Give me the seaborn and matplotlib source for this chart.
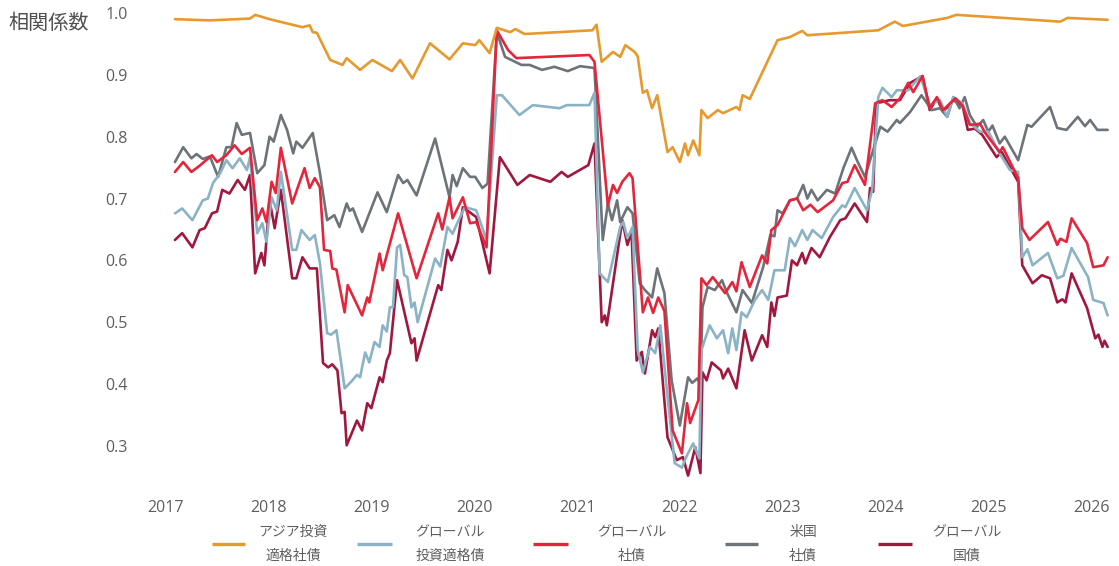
import matplotlib
matplotlib.use("Agg")
import matplotlib.pyplot as plt
from matplotlib.lines import Line2D
import seaborn as sns
import pandas as pd

# ---- data: correlation coefficients (decimal-year dates) ----
asia_ig_t = [2017.09, 2017.43, 2017.82, 2017.87, 2018.01, 2018.33, 2018.40, 2018.43, 2018.47, 2018.60,
             2018.72, 2018.76, 2018.89, 2019.01, 2019.20, 2019.28, 2019.40, 2019.57, 2019.76, 2019.89,
             2020.01, 2020.05, 2020.15, 2020.22, 2020.35, 2020.40, 2020.49, 2021.15, 2021.19, 2021.24,
             2021.35, 2021.42, 2021.47, 2021.56, 2021.59, 2021.64, 2021.68, 2021.73, 2021.78, 2021.88,
             2021.93, 2022.00, 2022.05, 2022.08, 2022.13, 2022.19, 2022.21, 2022.27, 2022.37, 2022.42,
             2022.55, 2022.58, 2022.61, 2022.68, 2022.95, 2023.07, 2023.19, 2023.24, 2023.93, 2024.09,
             2024.17, 2024.60, 2024.69, 2025.70, 2025.77, 2026.16]
asia_ig_v = [0.990, 0.988, 0.991, 0.997, 0.990, 0.977, 0.980, 0.969, 0.968, 0.924,
             0.916, 0.927, 0.908, 0.924, 0.906, 0.924, 0.894, 0.951, 0.925, 0.951,
             0.948, 0.956, 0.935, 0.976, 0.969, 0.974, 0.966, 0.972, 0.981, 0.921,
             0.937, 0.929, 0.948, 0.937, 0.930, 0.871, 0.875, 0.846, 0.867, 0.775,
             0.783, 0.759, 0.789, 0.770, 0.794, 0.770, 0.843, 0.830, 0.843, 0.838,
             0.848, 0.843, 0.867, 0.861, 0.956, 0.961, 0.971, 0.964, 0.972, 0.986,
             0.979, 0.992, 0.997, 0.986, 0.992, 0.989]

global_ig_t = [2017.09, 2017.16, 2017.26, 2017.36, 2017.41, 2017.46, 2017.53, 2017.59, 2017.65, 2017.72,
               2017.79, 2017.82, 2017.89, 2017.94, 2017.98, 2018.03, 2018.08, 2018.12, 2018.23, 2018.27,
               2018.32, 2018.40, 2018.45, 2018.50, 2018.57, 2018.61, 2018.66, 2018.71, 2018.74, 2018.81,
               2018.86, 2018.89, 2018.94, 2018.98, 2019.03, 2019.08, 2019.11, 2019.15, 2019.18, 2019.21,
               2019.25, 2019.28, 2019.32, 2019.35, 2019.39, 2019.42, 2019.45, 2019.62, 2019.67, 2019.74,
               2019.79, 2019.84, 2019.91, 2020.02, 2020.12, 2020.22, 2020.27, 2020.44, 2020.57, 2020.83,
               2020.90, 2021.12, 2021.17, 2021.22, 2021.30, 2021.42, 2021.45, 2021.49, 2021.54, 2021.59,
               2021.64, 2021.71, 2021.76, 2021.81, 2021.88, 2021.95, 2022.02, 2022.07, 2022.13, 2022.19,
               2022.21, 2022.29, 2022.36, 2022.42, 2022.47, 2022.51, 2022.55, 2022.60, 2022.65, 2022.73,
               2022.80, 2022.86, 2022.92, 2023.02, 2023.07, 2023.12, 2023.19, 2023.24, 2023.29, 2023.38,
               2023.49, 2023.58, 2023.61, 2023.70, 2023.82, 2023.87, 2023.93, 2023.97, 2024.06, 2024.11,
               2024.22, 2024.34, 2024.43, 2024.53, 2024.60, 2024.66, 2024.75, 2024.82, 2024.92, 2025.00,
               2025.11, 2025.21, 2025.29, 2025.33, 2025.38, 2025.43, 2025.58, 2025.67, 2025.73, 2025.81,
               2025.97, 2026.02, 2026.12, 2026.16]
global_ig_v = [0.676, 0.684, 0.665, 0.697, 0.700, 0.725, 0.741, 0.762, 0.749, 0.765,
               0.746, 0.767, 0.644, 0.660, 0.630, 0.702, 0.681, 0.743, 0.617, 0.617,
               0.649, 0.633, 0.641, 0.595, 0.482, 0.480, 0.487, 0.430, 0.393, 0.405,
               0.415, 0.411, 0.451, 0.435, 0.468, 0.460, 0.495, 0.485, 0.524, 0.524,
               0.621, 0.625, 0.576, 0.573, 0.524, 0.532, 0.500, 0.603, 0.590, 0.654,
               0.643, 0.662, 0.686, 0.681, 0.633, 0.867, 0.867, 0.835, 0.851, 0.846,
               0.851, 0.851, 0.871, 0.579, 0.565, 0.654, 0.662, 0.636, 0.654, 0.455,
               0.419, 0.460, 0.450, 0.495, 0.380, 0.272, 0.265, 0.285, 0.304, 0.280,
               0.455, 0.495, 0.474, 0.487, 0.450, 0.490, 0.455, 0.516, 0.508, 0.536,
               0.552, 0.536, 0.584, 0.584, 0.636, 0.623, 0.649, 0.633, 0.649, 0.636,
               0.670, 0.689, 0.686, 0.717, 0.681, 0.714, 0.864, 0.879, 0.864, 0.875,
               0.875, 0.898, 0.851, 0.859, 0.832, 0.864, 0.853, 0.822, 0.808, 0.808,
               0.773, 0.746, 0.743, 0.605, 0.618, 0.592, 0.612, 0.571, 0.575, 0.620,
               0.573, 0.536, 0.531, 0.511]

global_corp_t = [2017.09, 2017.17, 2017.25, 2017.33, 2017.45, 2017.50, 2017.59, 2017.67, 2017.74, 2017.82,
                 2017.89, 2017.94, 2017.98, 2018.03, 2018.07, 2018.12, 2018.23, 2018.35, 2018.40, 2018.45,
                 2018.50, 2018.54, 2018.60, 2018.62, 2018.66, 2018.74, 2018.77, 2018.91, 2018.96, 2018.98,
                 2019.08, 2019.11, 2019.26, 2019.44, 2019.65, 2019.69, 2019.76, 2019.79, 2019.89, 2019.96,
                 2020.02, 2020.12, 2020.22, 2020.33, 2020.41, 2021.12, 2021.17, 2021.30, 2021.35, 2021.39,
                 2021.44, 2021.51, 2021.54, 2021.64, 2021.69, 2021.74, 2021.79, 2021.85, 2021.93, 2022.02,
                 2022.07, 2022.10, 2022.18, 2022.21, 2022.26, 2022.32, 2022.44, 2022.51, 2022.55, 2022.60,
                 2022.68, 2022.80, 2022.85, 2022.89, 2022.95, 2023.07, 2023.14, 2023.20, 2023.27, 2023.34,
                 2023.49, 2023.58, 2023.63, 2023.70, 2023.80, 2023.90, 2023.97, 2024.06, 2024.14, 2024.22,
                 2024.27, 2024.36, 2024.43, 2024.50, 2024.56, 2024.68, 2024.75, 2024.82, 2024.92, 2024.97,
                 2025.11, 2025.14, 2025.29, 2025.33, 2025.40, 2025.58, 2025.67, 2025.70, 2025.76, 2025.81,
                 2025.96, 2026.02, 2026.12, 2026.16]
global_corp_v = [0.743, 0.759, 0.743, 0.753, 0.770, 0.759, 0.770, 0.786, 0.772, 0.782,
                 0.665, 0.684, 0.662, 0.727, 0.709, 0.782, 0.692, 0.749, 0.717, 0.733,
                 0.718, 0.617, 0.615, 0.587, 0.585, 0.516, 0.560, 0.511, 0.540, 0.532,
                 0.611, 0.584, 0.676, 0.571, 0.676, 0.650, 0.702, 0.668, 0.702, 0.660,
                 0.662, 0.621, 0.972, 0.940, 0.927, 0.932, 0.921, 0.689, 0.722, 0.709,
                 0.727, 0.741, 0.733, 0.516, 0.540, 0.515, 0.540, 0.518, 0.325, 0.288,
                 0.369, 0.337, 0.374, 0.571, 0.560, 0.573, 0.547, 0.565, 0.550, 0.597,
                 0.557, 0.608, 0.595, 0.649, 0.657, 0.697, 0.700, 0.681, 0.690, 0.678,
                 0.697, 0.725, 0.727, 0.754, 0.722, 0.854, 0.859, 0.848, 0.862, 0.887,
                 0.872, 0.898, 0.846, 0.864, 0.843, 0.862, 0.850, 0.819, 0.821, 0.806,
                 0.775, 0.783, 0.733, 0.652, 0.633, 0.662, 0.625, 0.635, 0.630, 0.668,
                 0.628, 0.589, 0.592, 0.605]

us_corp_t = [2017.09, 2017.17, 2017.25, 2017.30, 2017.36, 2017.43, 2017.51, 2017.59, 2017.64, 2017.69,
             2017.74, 2017.82, 2017.89, 2017.96, 2018.01, 2018.05, 2018.12, 2018.18, 2018.24, 2018.27,
             2018.33, 2018.43, 2018.50, 2018.57, 2018.64, 2018.69, 2018.76, 2018.79, 2018.82, 2018.91,
             2019.06, 2019.15, 2019.26, 2019.31, 2019.35, 2019.44, 2019.62, 2019.76, 2019.79, 2019.83,
             2019.89, 2019.96, 2020.01, 2020.08, 2020.13, 2020.22, 2020.30, 2020.46, 2020.54, 2020.66,
             2020.78, 2020.91, 2021.03, 2021.17, 2021.25, 2021.30, 2021.34, 2021.39, 2021.42, 2021.49,
             2021.54, 2021.61, 2021.66, 2021.73, 2021.78, 2021.85, 2021.92, 2022.00, 2022.08, 2022.12,
             2022.17, 2022.20, 2022.22, 2022.27, 2022.34, 2022.41, 2022.46, 2022.55, 2022.61, 2022.70,
             2022.81, 2022.88, 2022.92, 2022.95, 2023.00, 2023.07, 2023.14, 2023.20, 2023.24, 2023.28,
             2023.34, 2023.43, 2023.51, 2023.59, 2023.67, 2023.73, 2023.80, 2023.87, 2023.95, 2024.02,
             2024.11, 2024.14, 2024.24, 2024.35, 2024.45, 2024.53, 2024.60, 2024.66, 2024.72, 2024.77,
             2024.82, 2024.89, 2024.95, 2025.00, 2025.04, 2025.11, 2025.16, 2025.29, 2025.38, 2025.42,
             2025.60, 2025.67, 2025.76, 2025.87, 2025.94, 2025.99, 2026.06, 2026.16]
us_corp_v = [0.759, 0.783, 0.765, 0.772, 0.764, 0.768, 0.735, 0.783, 0.783, 0.822,
             0.803, 0.806, 0.741, 0.754, 0.800, 0.792, 0.835, 0.811, 0.773, 0.792,
             0.782, 0.806, 0.741, 0.665, 0.673, 0.654, 0.692, 0.680, 0.684, 0.646,
             0.710, 0.678, 0.738, 0.725, 0.730, 0.705, 0.797, 0.702, 0.738, 0.720,
             0.749, 0.735, 0.735, 0.717, 0.724, 0.969, 0.929, 0.916, 0.916, 0.908,
             0.913, 0.906, 0.914, 0.911, 0.633, 0.692, 0.665, 0.697, 0.662, 0.686,
             0.676, 0.563, 0.552, 0.540, 0.587, 0.547, 0.406, 0.333, 0.411, 0.402,
             0.409, 0.400, 0.524, 0.557, 0.552, 0.568, 0.547, 0.516, 0.552, 0.531,
             0.589, 0.641, 0.639, 0.681, 0.676, 0.697, 0.700, 0.722, 0.700, 0.714,
             0.697, 0.714, 0.708, 0.749, 0.782, 0.759, 0.735, 0.773, 0.816, 0.808,
             0.827, 0.822, 0.840, 0.867, 0.843, 0.846, 0.832, 0.864, 0.846, 0.864,
             0.835, 0.816, 0.827, 0.808, 0.818, 0.789, 0.800, 0.762, 0.819, 0.816,
             0.848, 0.814, 0.811, 0.832, 0.817, 0.827, 0.811, 0.811]

global_gov_t = [2017.09, 2017.16, 2017.26, 2017.33, 2017.38, 2017.45, 2017.50, 2017.55, 2017.62, 2017.70,
                2017.77, 2017.82, 2017.87, 2017.93, 2017.96, 2018.01, 2018.06, 2018.12, 2018.23, 2018.27,
                2018.33, 2018.40, 2018.47, 2018.53, 2018.58, 2018.62, 2018.67, 2018.71, 2018.74, 2018.76,
                2018.86, 2018.91, 2018.96, 2019.00, 2019.08, 2019.11, 2019.15, 2019.18, 2019.25, 2019.39,
                2019.42, 2019.44, 2019.65, 2019.68, 2019.74, 2019.78, 2019.84, 2019.89, 2019.98, 2020.02,
                2020.15, 2020.25, 2020.42, 2020.54, 2020.74, 2020.85, 2020.91, 2021.11, 2021.17, 2021.24,
                2021.27, 2021.29, 2021.44, 2021.49, 2021.53, 2021.58, 2021.63, 2021.66, 2021.73, 2021.76,
                2021.79, 2021.88, 2021.97, 2022.03, 2022.08, 2022.15, 2022.20, 2022.22, 2022.26, 2022.31,
                2022.40, 2022.42, 2022.47, 2022.55, 2022.63, 2022.70, 2022.80, 2022.85, 2022.89, 2022.92,
                2022.95, 2023.04, 2023.09, 2023.14, 2023.19, 2023.22, 2023.28, 2023.36, 2023.46, 2023.56,
                2023.61, 2023.70, 2023.82, 2023.85, 2023.88, 2023.91, 2024.04, 2024.14, 2024.24, 2024.36,
                2024.43, 2024.50, 2024.56, 2024.66, 2024.75, 2024.80, 2024.87, 2024.94, 2025.08, 2025.13,
                2025.29, 2025.33, 2025.43, 2025.52, 2025.60, 2025.67, 2025.72, 2025.75, 2025.81, 2025.96,
                2026.04, 2026.07, 2026.11, 2026.13, 2026.16]
global_gov_v = [0.633, 0.644, 0.621, 0.649, 0.652, 0.676, 0.679, 0.714, 0.708, 0.730,
                0.714, 0.738, 0.579, 0.612, 0.592, 0.697, 0.652, 0.714, 0.571, 0.571,
                0.605, 0.587, 0.587, 0.434, 0.427, 0.432, 0.422, 0.353, 0.355, 0.301,
                0.341, 0.325, 0.369, 0.361, 0.411, 0.403, 0.438, 0.450, 0.568, 0.466,
                0.474, 0.438, 0.560, 0.552, 0.617, 0.600, 0.630, 0.686, 0.675, 0.670,
                0.579, 0.767, 0.722, 0.738, 0.727, 0.743, 0.735, 0.754, 0.789, 0.500,
                0.511, 0.495, 0.665, 0.625, 0.646, 0.438, 0.452, 0.417, 0.487, 0.476,
                0.490, 0.314, 0.277, 0.282, 0.252, 0.298, 0.256, 0.419, 0.406, 0.435,
                0.422, 0.409, 0.425, 0.393, 0.487, 0.438, 0.479, 0.460, 0.532, 0.510,
                0.540, 0.543, 0.600, 0.592, 0.612, 0.595, 0.620, 0.605, 0.638, 0.665,
                0.668, 0.692, 0.662, 0.717, 0.711, 0.854, 0.859, 0.859, 0.887, 0.898,
                0.843, 0.862, 0.840, 0.859, 0.850, 0.811, 0.813, 0.803, 0.767, 0.775,
                0.727, 0.592, 0.563, 0.576, 0.571, 0.532, 0.537, 0.532, 0.579, 0.523,
                0.474, 0.480, 0.460, 0.470, 0.460]

labels = ["アジア投資\n適格社債", "グローバル\n投資適格債", "グローバル\n社債", "米国\n社債", "グローバル\n国債"]
colors = ["#E69A2E", "#8AB3C5", "#E3263C", "#6C7479", "#A1183F"]
year_ticks = list(range(2017, 2027))
value_ticks = [0.3, 0.4, 0.5, 0.6, 0.7, 0.8, 0.9, 1.0]

series = [
    (asia_ig_t, asia_ig_v),
    (global_ig_t, global_ig_v),
    (global_corp_t, global_corp_v),
    (us_corp_t, us_corp_v),
    (global_gov_t, global_gov_v),
]

# ---- style ----
sns.set_theme(style="white")
plt.rcParams["font.family"] = ["Noto Sans CJK JP", "DejaVu Sans"]
text_color = "#5e5e5e"
tick_font = ["Open Sans", "DejaVu Sans"]

W, H = 1119, 566
fig = plt.figure(figsize=(W / 100, H / 100), dpi=100)
ax = fig.add_axes([0.1251, 0.1466, 0.873, 0.8414])

# drawing order: bottom to top
draw_order = [4, 3, 1, 2, 0]
for i in draw_order:
    t, v = series[i]
    df = pd.DataFrame({"date": t, "corr": v})
    sns.lineplot(data=df, x="date", y="corr", ax=ax, color=colors[i],
                 linewidth=1.9, estimator=None, sort=True, legend=False)

ax.set_xlim(2016.75, 2026.25)
ax.set_ylim(0.24, 1.01)
ax.set_xticks(year_ticks)
ax.set_xticklabels([str(y) for y in year_ticks], family=tick_font)
ax.set_yticks(value_ticks)
ax.set_yticklabels([f"{v:.1f}" for v in value_ticks], family=tick_font)
ax.tick_params(axis="x", length=0, pad=12, labelsize=11.5, labelcolor=text_color)
ax.tick_params(axis="y", length=0, pad=9, labelsize=11.5, labelcolor=text_color)
ax.set_xlabel("")
ax.set_ylabel("")
for s in ax.spines.values():
    s.set_visible(False)
ax.grid(False)

fig.text(8 / W, 1 - 23 / H, "相関係数", fontsize=14.5, color="#4f4f4f",
         ha="left", va="center")

# legend below the plot: short line sample, then a two-line centred label
handle_x = [(212, 245), (357, 392), (533, 568), (725, 758), (878, 912)]
label_cx = [293, 450, 632, 803, 967]
handle_y, line1_y, line2_y = 544, 532, 556
for (x0, x1), cx, lab, c in zip(handle_x, label_cx, labels, colors):
    fig.add_artist(Line2D([x0 / W, x1 / W], [1 - handle_y / H, 1 - handle_y / H],
                          transform=fig.transFigure, color=c, linewidth=2.4,
                          solid_capstyle="butt"))
    top, bottom = lab.split("\n")
    fig.text(cx / W, 1 - line1_y / H, top, fontsize=10, color=text_color,
             ha="center", va="center")
    fig.text(cx / W, 1 - line2_y / H, bottom, fontsize=10, color=text_color,
             ha="center", va="center")

fig.savefig("out.png", dpi=100, facecolor="white")
